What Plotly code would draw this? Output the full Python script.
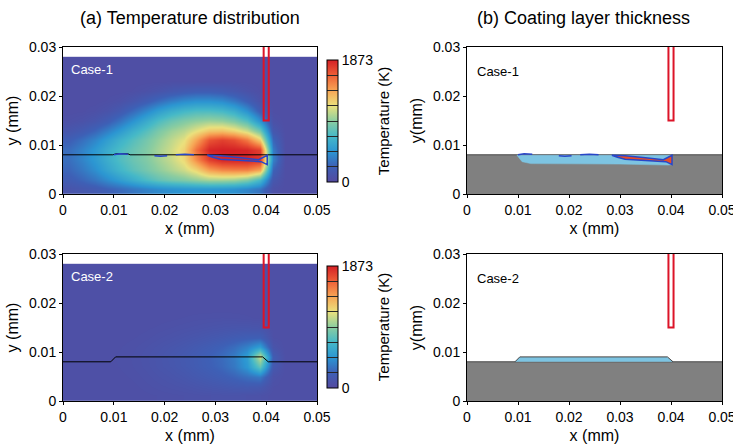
import plotly.graph_objects as go

# grid of the temperature field (cell centres, mm)
grid_x = [0.00125, 0.00375, 0.00625, 0.00875, 0.01125, 0.01375, 0.01625, 0.01875, 0.02125, 0.02375,
          0.02625, 0.02875, 0.03125, 0.03375, 0.03625, 0.03875, 0.04125, 0.04375, 0.04625, 0.04875]
grid_y = [0.001, 0.003, 0.005, 0.007, 0.009, 0.011, 0.013, 0.015, 0.017, 0.019, 0.021, 0.023, 0.025, 0.027]

# temperature (K), rows bottom -> top
temp_case1 = [
    [120, 150, 180, 230, 280, 330, 380, 420, 450, 470, 480, 480, 470, 450, 400, 320, 80, 50, 50, 50],
    [200, 260, 330, 420, 520, 620, 720, 800, 860, 900, 950, 1000, 1000, 980, 900, 700, 150, 50, 50, 50],
    [260, 340, 440, 560, 680, 780, 860, 940, 1020, 1100, 1220, 1420, 1500, 1520, 1520, 1400, 250, 50, 50, 50],
    [300, 390, 500, 620, 740, 830, 900, 990, 1080, 1200, 1480, 1750, 1850, 1860, 1860, 1800, 380, 55, 50, 50],
    [290, 380, 490, 610, 730, 820, 900, 1000, 1100, 1230, 1580, 1850, 1873, 1870, 1850, 1750, 350, 55, 50, 50],
    [220, 300, 400, 520, 650, 760, 860, 960, 1060, 1160, 1400, 1680, 1750, 1700, 1550, 1250, 260, 50, 50, 50],
    [130, 180, 260, 370, 500, 640, 760, 880, 980, 1050, 1160, 1280, 1300, 1230, 1100, 850, 150, 50, 50, 50],
    [70, 90, 130, 200, 320, 460, 600, 730, 830, 900, 950, 980, 960, 890, 750, 450, 80, 50, 50, 50],
    [50, 55, 70, 100, 170, 280, 400, 520, 620, 690, 730, 730, 700, 620, 450, 200, 55, 50, 50, 50],
    [50, 50, 50, 60, 80, 130, 200, 280, 360, 420, 450, 450, 420, 340, 220, 90, 50, 50, 50, 50],
    [50, 50, 50, 50, 50, 60, 80, 110, 150, 180, 200, 200, 180, 140, 90, 55, 50, 50, 50, 50],
    [50] * 20,
    [50] * 20,
    [50] * 20,
]

temp_case2 = [
    [60, 60, 60, 60, 60, 60, 65, 70, 75, 80, 85, 90, 95, 95, 90, 80, 60, 60, 60, 60],
    [60, 60, 60, 60, 62, 65, 75, 85, 95, 105, 120, 135, 150, 165, 175, 160, 70, 60, 60, 60],
    [60, 60, 60, 62, 65, 72, 85, 100, 115, 135, 160, 185, 215, 250, 300, 340, 90, 60, 60, 60],
    [60, 60, 62, 65, 70, 80, 95, 115, 135, 160, 190, 225, 270, 340, 480, 800, 160, 60, 60, 60],
    [60, 60, 62, 65, 72, 82, 98, 118, 140, 165, 195, 235, 285, 360, 520, 1100, 200, 60, 60, 60],
    [60, 60, 60, 63, 68, 76, 90, 105, 125, 145, 170, 200, 240, 290, 380, 520, 110, 60, 60, 60],
    [60, 60, 60, 60, 63, 68, 76, 88, 100, 115, 130, 150, 170, 195, 220, 230, 70, 60, 60, 60],
    [60, 60, 60, 60, 60, 62, 66, 72, 80, 88, 96, 105, 115, 122, 125, 115, 60, 60, 60, 60],
    [60, 60, 60, 60, 60, 60, 60, 62, 65, 70, 75, 78, 80, 78, 72, 65, 60, 60, 60, 60],
    [60] * 20,
    [60] * 20,
    [60] * 20,
    [60] * 20,
    [60] * 20,
]

# substrate surface / coating profiles
surf1_x = [0, 0.0098, 0.0104, 0.0128, 0.0132, 0.05]
surf1_y = [0.0080, 0.0080, 0.0082, 0.0082, 0.0080, 0.0080]
prof2_x = [0, 0.0094, 0.01035, 0.0393, 0.0404, 0.05]
prof2_y = [0.008, 0.008, 0.009, 0.009, 0.008, 0.008]

# molten pool outline (case-1)
melt_x = [0.0284, 0.031, 0.035, 0.0385, 0.0402, 0.0402, 0.0390, 0.035, 0.031, 0.0295, 0.0284]
melt_y = [0.0079, 0.0078, 0.0074, 0.0070, 0.0079, 0.0060, 0.0066, 0.0068, 0.0071, 0.0075, 0.0079]

# blue crust fragments along the surface (case-1)
crust_x = [0.0100, 0.0112, 0.0128, None, 0.0180, 0.0192, 0.0205, None, 0.0222, 0.0240, 0.0258]
crust_y = [0.0080, 0.0082, 0.0081, None, 0.0078, 0.0077, 0.0078, None, 0.0080, 0.0081, 0.0080]

# solidified coating layer (case-1)
coat1_x = [0.0098, 0.0400, 0.0402, 0.0395, 0.030, 0.020, 0.0125, 0.0108, 0.0098]
coat1_y = [0.0079, 0.0079, 0.0060, 0.0059, 0.0061, 0.0062, 0.0062, 0.0066, 0.0079]

# nozzle
nozzle_x = [0.0395, 0.0405]
nozzle_y = [0.015, 0.031]

x_ticks = [0, 0.01, 0.02, 0.03, 0.04, 0.05]
x_labels = ['0', '0.01', '0.02', '0.03', '0.04', '0.05']
y_ticks = [0, 0.01, 0.02, 0.03]
y_labels = ['0', '0.01', '0.02', '0.03']

T_MAX = 1873
cb_ticks = [0, 234, 468, 702, 936, 1171, 1405, 1639, 1873]
cb_text = ['0', '', '', '', '', '', '', '', '1873']

scale = [
    [0.0, 'rgb(84,74,160)'],
    [0.125, 'rgb(62,96,182)'],
    [0.25, 'rgb(44,150,210)'],
    [0.375, 'rgb(70,185,200)'],
    [0.5, 'rgb(140,205,160)'],
    [0.625, 'rgb(235,225,125)'],
    [0.75, 'rgb(247,165,85)'],
    [0.875, 'rgb(238,95,55)'],
    [1.0, 'rgb(212,32,38)'],
]

FONT = 'Liberation Sans, Arial, sans-serif'
GRAY = 'rgb(128,128,128)'
COAT = 'rgb(125,196,226)'
MELT = 'rgb(232,76,40)'
BLUE = 'rgb(40,70,200)'

fig = go.Figure()


def colorbar(top_px):
    return dict(x=327 / 733, xanchor='left', xpad=0, y=1 - top_px / 448, yanchor='top', ypad=0,
                thickness=11, len=122, lenmode='pixels',
                outlinecolor='black', outlinewidth=1,
                tickvals=cb_ticks, ticktext=cb_text, ticks='inside', ticklen=11,
                tickcolor='rgb(40,40,40)', tickwidth=1,
                tickfont=dict(size=14, color='black'),
                title=dict(text='Temperature (K)', side='right', font=dict(size=15, color='black')))


fig.add_trace(go.Heatmap(x=grid_x, y=grid_y, z=temp_case1, zmin=0, zmax=T_MAX, colorscale=scale,
                         zsmooth='best', colorbar=colorbar(60), xaxis='x', yaxis='y',
                         hoverinfo='skip'))
fig.add_trace(go.Heatmap(x=grid_x, y=grid_y, z=temp_case2, zmin=0, zmax=T_MAX, colorscale=scale,
                         zsmooth='best', colorbar=colorbar(266), xaxis='x3', yaxis='y3',
                         hoverinfo='skip'))

# left overlays
fig.add_trace(go.Scatter(x=surf1_x, y=surf1_y, mode='lines', line=dict(color='black', width=1),
                         xaxis='x', yaxis='y'))
fig.add_trace(go.Scatter(x=crust_x, y=crust_y, mode='lines', line=dict(color=BLUE, width=1.5),
                         xaxis='x', yaxis='y'))
fig.add_trace(go.Scatter(x=melt_x, y=melt_y, mode='lines', line=dict(color=BLUE, width=1.5),
                         xaxis='x', yaxis='y'))
fig.add_trace(go.Scatter(x=prof2_x, y=prof2_y, mode='lines', line=dict(color='black', width=1),
                         xaxis='x3', yaxis='y3'))

# right, case-1
fig.add_trace(go.Scatter(x=[0, 0.05], y=[0.008, 0.008], mode='lines', fill='tozeroy', fillcolor=GRAY,
                         line=dict(color='rgb(70,70,70)', width=1), xaxis='x2', yaxis='y2'))
fig.add_trace(go.Scatter(x=coat1_x, y=coat1_y, mode='lines', fill='toself', fillcolor=COAT,
                         line=dict(color=COAT, width=0.5), xaxis='x2', yaxis='y2'))
fig.add_trace(go.Scatter(x=crust_x, y=crust_y, mode='lines', line=dict(color=BLUE, width=1.5),
                         xaxis='x2', yaxis='y2'))
fig.add_trace(go.Scatter(x=melt_x, y=melt_y, mode='lines', fill='toself', fillcolor=MELT,
                         line=dict(color=BLUE, width=1.5), xaxis='x2', yaxis='y2'))

# right, case-2
fig.add_trace(go.Scatter(x=[0, 0.05], y=[0.008, 0.008], mode='lines', fill='tozeroy', fillcolor=GRAY,
                         line=dict(color='rgb(70,70,70)', width=1), xaxis='x4', yaxis='y4'))
fig.add_trace(go.Scatter(x=prof2_x[1:5], y=prof2_y[1:5], mode='lines', fill='toself', fillcolor=COAT,
                         line=dict(color='rgb(70,70,70)', width=1), xaxis='x4', yaxis='y4'))

for ax in ['', '2', '3', '4']:
    fig.add_shape(type='rect', xref='x' + ax, yref='y' + ax,
                  x0=nozzle_x[0], x1=nozzle_x[1], y0=nozzle_y[0], y1=nozzle_y[1],
                  line=dict(color='rgb(220,20,40)', width=2))

xdoms = {'': [63 / 733, 317 / 733], '2': [467 / 733, 722 / 733],
         '3': [63 / 733, 317 / 733], '4': [467 / 733, 722 / 733]}
ydoms = {'': [1 - 194 / 448, 1 - 47 / 448], '2': [1 - 194 / 448, 1 - 47 / 448],
         '3': [1 - 401 / 448, 1 - 254 / 448], '4': [1 - 401 / 448, 1 - 254 / 448]}
ytitles = {'': 'y (mm)', '2': 'y(mm)', '3': 'y (mm)', '4': 'y(mm)'}
top_axes = {'': '5', '2': '6', '3': '7', '4': '8'}

axis_common = dict(showgrid=False, zeroline=False, showline=True, linecolor='black', linewidth=1,
                   mirror=True, ticks='outside', ticklen=3, tickcolor='black', automargin=False,
                   ticklabeloverflow='allow', tickfont=dict(size=14, color='black'))
for ax in ['', '2', '3', '4']:
    fig.update_layout({
        'xaxis' + ax: dict(axis_common, domain=xdoms[ax], anchor='y' + ax, range=[0, 0.05],
                           tickvals=x_ticks, ticktext=x_labels,
                           title=dict(text='x (mm)', font=dict(size=16, color='black'), standoff=6)),
        'yaxis' + ax: dict(axis_common, domain=ydoms[ax], anchor='x' + ax, range=[0, 0.03],
                           tickvals=y_ticks, ticktext=y_labels,
                           title=dict(text=ytitles[ax], font=dict(size=16, color='black'), standoff=6)),
        # inward tick marks along the top border
        'xaxis' + top_axes[ax]: dict(overlaying='x' + ax, anchor='y' + ax, side='top', range=[0, 0.05],
                                     tickvals=x_ticks, showticklabels=False, ticks='inside', ticklen=3,
                                     tickcolor='black', showline=False, showgrid=False, zeroline=False,
                                     automargin=False),
    })

fig.add_annotation(x=0.0012, y=0.0255, xref='x', yref='y', text='Case-1', showarrow=False,
                   xanchor='left', font=dict(size=13, color='white'))
fig.add_annotation(x=0.0012, y=0.0255, xref='x3', yref='y3', text='Case-2', showarrow=False,
                   xanchor='left', font=dict(size=13, color='white'))
fig.add_annotation(x=0.0015, y=0.025, xref='x2', yref='y2', text='Case-1', showarrow=False,
                   xanchor='left', font=dict(size=13, color='black'))
fig.add_annotation(x=0.0015, y=0.025, xref='x4', yref='y4', text='Case-2', showarrow=False,
                   xanchor='left', font=dict(size=13, color='black'))
fig.add_annotation(x=190 / 733, y=1 - 18 / 448, xref='paper', yref='paper', showarrow=False,
                   xanchor='center', yanchor='middle',
                   text='(a) Temperature distribution', font=dict(size=18, color='black'))
fig.add_annotation(x=583 / 733, y=1 - 18 / 448, xref='paper', yref='paper', showarrow=False,
                   xanchor='center', yanchor='middle',
                   text='(b) Coating layer thickness', font=dict(size=18, color='black'))

fig.update_layout(
    width=733, height=448,
    margin=dict(l=0, r=0, t=0, b=0, autoexpand=False),
    paper_bgcolor='white', plot_bgcolor='white',
    showlegend=False,
    font=dict(family=FONT, color='black'),
)

fig.write_html("out.html", config={'displayModeBar': False},
               post_script="document.body.style.margin='0';")
